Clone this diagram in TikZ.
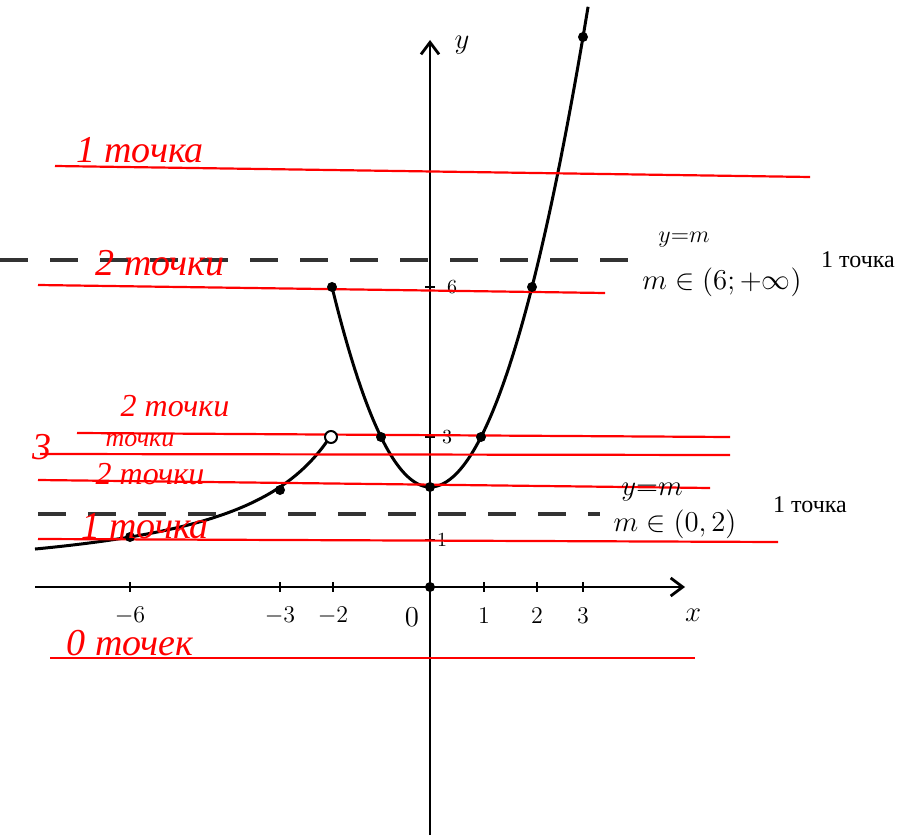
\documentclass[tikz,border=0pt]{standalone}
\usepackage{fontspec}
\newfontfamily\hand{Liberation Serif}
\usetikzlibrary{arrows.meta}
\begin{document}
\begin{tikzpicture}[x=0.5pt,y=-0.5pt,
  ax/.style={line width=1.4pt,black},
  curve/.style={line width=1.5pt,black},
  redline/.style={line width=1.1pt,red},
  dashline/.style={line width=1.6pt,black!80,dash pattern=on 14pt off 11pt},
  dot/.style={circle,fill=black,inner sep=0pt,minimum size=5pt},
  odot/.style={circle,draw=black,fill=white,line width=1pt,inner sep=0pt,minimum size=6pt},
  redtxt/.style={red,font=\hand\itshape\fontsize{19}{19}\selectfont,inner sep=0pt},
  redsm/.style={red,font=\hand\itshape\fontsize{16}{16}\selectfont,inner sep=0pt},
  blk/.style={black,font=\fontsize{13}{13}\selectfont,inner sep=0pt},
  tick/.style={line width=1pt,black}]
\useasboundingbox (0,0) rectangle (914,839);
\fill[white] (0,0) rectangle (914,839);

% axes
\coordinate (xs) at (35,587);
\coordinate (xe) at (685,587);
\coordinate (ys) at (430,835);
\coordinate (ye) at (430,40);
\draw[ax,-{Straight Barb[length=6pt,width=9pt]}] (xs) -- (xe);
\draw[ax,-{Straight Barb[length=6pt,width=9pt]}] (ys) -- (ye);
\node[blk,font=\fontsize{15}{15}\selectfont] (ylab) at (462,45) {$y$};
\node[blk,font=\fontsize{15}{15}\selectfont] (xlab) at (693,615) {$x$};

% ticks x
\foreach \px/\t in {130/-6,280/-3,333/-2,484/1,537/2,583/3}{
  \draw[tick] (\px,582) -- (\px,592);
  \node[blk,font=\fontsize{12}{12}\selectfont] at (\px,616) {$\t$};
}
\node[blk,font=\fontsize{14}{14}\selectfont] (zero) at (412,617) {$0$};
% ticks y
\foreach \py/\t/\lx in {540/1/442,437/3/447,287/6/452}{
  \draw[tick] (425,\py) -- (435,\py);
  \node[blk,font=\fontsize{10}{10}\selectfont] at (\lx,\py) {$\t$};
}

% curves
\draw[curve] plot[domain=-2:3.1,samples=80,smooth] ({430+((\x<0)?49:51)*\x},{587-50*(\x*\x+2)});
\draw[curve] plot[domain=-7.9:-2.05,samples=60,smooth] ({430+50*\x},{587+300/\x});

% dashed lines
\draw[dashline] (0,260) -- (640,260);
\draw[dashline] (38,514) -- (600,514);

% red lines
\draw[redline] (55,166) -- (810,177);
\draw[redline] (38,285) -- (605,293);
\draw[redline] (77,433) -- (730,437);
\draw[redline] (40,454) -- (730,455);
\draw[redline] (38,480) -- (710,488);
\draw[redline] (38,539) -- (778,542);
\draw[redline] (50,658) -- (695,658);

% points
\node[dot] (o) at (430,587) {};
\node[dot] (p1) at (130,537) {};
\node[dot] (p2) at (280,490) {};
\node[odot] (p3) at (331,437) {};
\node[dot] (p4) at (332,287) {};
\node[dot] (p5) at (381,437) {};
\node[dot] (p6) at (430,487) {};
\node[dot] (p7) at (481,437) {};
\node[dot] (p8) at (532,287) {};
\node[dot] (p9) at (583,37) {};

% red labels
\node[redtxt] (r1) at (140,150) {1 точка};
\node[redtxt] (r2) at (160,263) {2 точки};
\node[redsm] (r3) at (175,406) {2 точки};
\node[redtxt] (r4a) at (42,447) {3};
\node[redsm,font=\hand\itshape\fontsize{13}{13}\selectfont] (r4b) at (140,441) {точки};
\node[redsm] (r5) at (150,474) {2 точки};
\node[redtxt] (r6) at (145,526) {1 точка};
\node[redtxt] (r7) at (130,643) {0 точек};

% black annotations
\node[blk] (a1) at (684,240) {$y{=}m$};
\node[blk,font=\fontsize{14}{14}\selectfont] (a2) at (722,282) {$m\in(6;+\infty)$};
\node[blk,font=\hand\fontsize{12}{12}\selectfont] (a3) at (858,260) {1 точка};
\node[blk,font=\fontsize{14}{14}\selectfont] (b1) at (652,492) {$y{=}m$};
\node[blk,font=\fontsize{14}{14}\selectfont] (b2) at (675,524) {$m\in(0,2)$};
\node[blk,font=\hand\fontsize{12}{12}\selectfont] (b3) at (810,505) {1 точка};
\end{tikzpicture}
\end{document}
